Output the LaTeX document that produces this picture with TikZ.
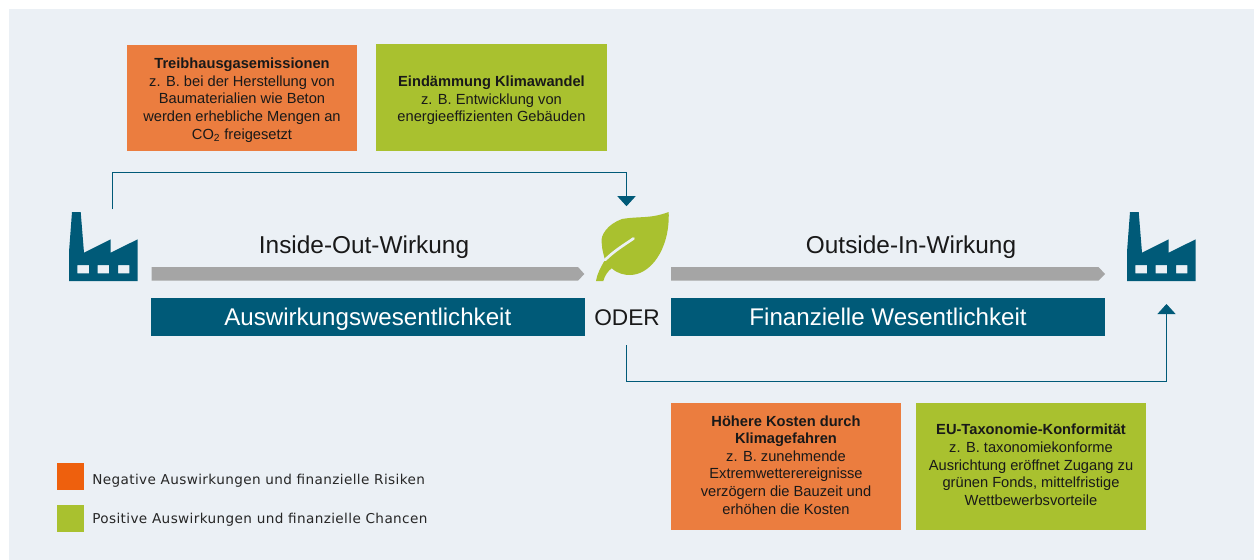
\documentclass[tikz,border=0pt]{standalone}
\usepackage{fontspec}
\setmainfont{Liberation Sans}
\newfontfamily\legendfont[LetterSpace=2.8]{DejaVu Sans}
\usepackage{tikz}
\usetikzlibrary{arrows.meta}
\definecolor{bgblue}{HTML}{EBF0F5}
\definecolor{petrol}{HTML}{005A78}
\definecolor{barorange}{HTML}{EB7D3F}
\definecolor{bargreen}{HTML}{A9C12F}
\definecolor{legorange}{HTML}{EE600D}
\definecolor{arrowgrey}{HTML}{A5A5A5}
\tikzset{
  textbox/.style={
    minimum width=#1*0.75pt,
    inner sep=0pt,
    align=center,
    text=black!90,
    font=\fontsize{11}{13.2}\selectfont,
  },
  style orange/.style={
    fill=barorange,
  },
  style green/.style={
    fill=bargreen,
  },
  legendbox/.style={
    minimum size=20.25pt,
    inner sep=0pt,
  },
  legendtext/.style={
    anchor=west,
    inner sep=0pt,
    text=black!85,
    font=\legendfont\fontsize{10.2}{12}\selectfont,
  },
  bar/.style={
    fill=petrol,
    text=white,
    inner sep=0pt,
    text height=14pt,
    text depth=1.5pt,
    font=\fontsize{18.1}{22}\selectfont,
  },
  heading/.style={
    text=black!90,
    font=\fontsize{18.3}{22}\selectfont,
  },
  pics/factory/.style={
    code={
      \fill[petrol, even odd rule] (-34,35) -- (-34,6) -- (-31,-34) -- (-22.3,-34) -- (-19,6.7)
        -- (7.7,-6.7) -- (7.7,6.7) -- (34.7,-6.7) -- (34.7,35) -- cycle
        (-25.7,19) rectangle (-14,27.3)
        (-5.3,19) rectangle (6,27.3)
        (15,19) rectangle (26.3,27.3);
    }
  }
}

\begin{document}
\begin{tikzpicture}[x=0.75pt,y=-0.75pt]
        \useasboundingbox (0,0) rectangle (1254,560);
        \fill[bgblue] (9,9) rectangle (1254,560);

        \pic at (103,246) {factory};
        \pic at (1161,246) {factory};

        % leaf
        \fill[bargreen] (668.7,212) .. controls (650,219) and (640,216) .. (622,219)
            .. controls (608,224) and (600,235) .. (601.7,243)
            .. controls (602,250) and (604,256) .. (605,260)
            .. controls (600,268) and (597,275) .. (596,281)
            -- (603.3,281)
            .. controls (605,275) and (608,271) .. (611.7,268.3)
            .. controls (618,274) and (625,275) .. (630,275)
            .. controls (650,275) and (670,250) .. (668.7,212) -- cycle;
        \draw[bgblue, line width=2pt, line cap=round] (605,260) .. controls (614,251) and (624,245) .. (633.5,238.5);

        \node (Leaf) at (626.5,206.5) [inner sep=0pt, minimum size=0pt] {};
        \node (Oder) at (627,318) [font=\fontsize{17}{20}\selectfont, text=black!90, inner sep=0pt, minimum height=40.5*0.75pt] {ODER};

        \fill[arrowgrey] (151.7,267) -- (578,267) -- (584.3,274) -- (578,280.7) -- (151.7,280.7) -- cycle;
        \fill[arrowgrey] (671,267) -- (1098.5,267) -- (1105,274) -- (1098.5,280.7) -- (671,280.7) -- cycle;

        \node (Inside) at (364,247) [heading] {Inside-Out-Wirkung};
        \node (Outside) at (911,247) [heading] {Outside-In-Wirkung};

        \node (Impact) at (367.8,317.2) [bar, minimum width=433.5*0.75pt, minimum height=38.5*0.75pt] {Auswirkungswesentlichkeit};
        \node (Finance) at (888,317.2) [bar, minimum width=434*0.75pt, minimum height=38.5*0.75pt] {Finanzielle Wesentlichkeit};

        \node (Emission) at (242,98) [textbox=230, style orange, minimum height=106*0.75pt] {\rule{0pt}{11pt}\textbf{Treibhausgasemissionen}\\z. B. bei der Herstellung von\\Baumaterialien wie Beton\\werden erhebliche Mengen an\\CO\textsubscript{2} freigesetzt};
        \node (Climate) at (491.5,97.5) [textbox=231, style green, minimum height=107*0.75pt] {\rule{0pt}{12.5pt}\textbf{Eindämmung Klimawandel}\\z. B. Entwicklung von\\energieeffizienten Gebäuden};
        \node (Costs) at (786,466.5) [textbox=230, style orange, minimum height=127*0.75pt] {\textbf{Höhere Kosten durch}\\\textbf{Klimagefahren}\\z. B. zunehmende\\Extremwetterereignisse\\verzögern die Bauzeit und\\erhöhen die Kosten\rule[-2.7pt]{0pt}{1pt}};
        \node (Taxonomy) at (1031,466.5) [textbox=230, style green, minimum height=127*0.75pt] {\textbf{EU-Taxonomie-Konformität}\\z. B. taxonomiekonforme\\Ausrichtung eröffnet Zugang zu\\grünen Fonds, mittelfristige\\Wettbewerbsvorteile\rule[-2.7pt]{0pt}{1pt}};

        \node (LegNeg) at (70,476.5) [legendbox, fill=legorange] {};
        \node (LegPos) at (70,518) [legendbox, fill=bargreen] {};
        \node (LegNegText) at (92,481) [legendtext] {Negative Auswirkungen und finanzielle Risiken};
        \node (LegPosText) at (92,520) [legendtext] {Positive Auswirkungen und finanzielle Chancen};

        \coordinate (OutStart) at (112.3,209.3);
        \coordinate (InStart) at (626,345);
        \coordinate (FactoryIn) at (1166.5,304);
        \begin{scope}[>={Triangle[width=13.5pt,length=7.5pt]}, every path/.style={draw=petrol,fill=none,line width=0.7pt}]
            \draw [->] (OutStart) |- (172,172.5) -| (Leaf.north);
            \draw [->] (InStart) |- (FactoryIn |- 0,381.5) -- (FactoryIn);
        \end{scope}
    \end{tikzpicture}
\end{document}
